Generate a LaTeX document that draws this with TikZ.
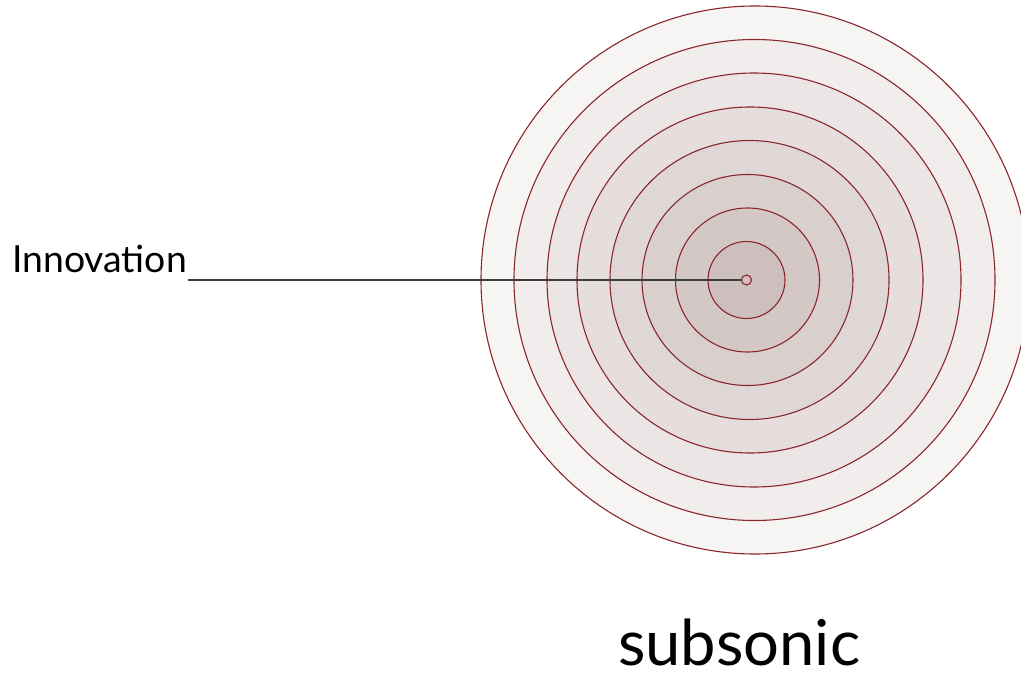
\documentclass[tikz,border=0pt]{standalone}
\usepackage{fontspec}
\setmainfont{Lato}
\definecolor{ringlight}{RGB}{247,245,244}
\definecolor{ringdark}{RGB}{204,191,189}
\definecolor{ringline}{RGB}{138,38,44}
\definecolor{leader}{RGB}{60,60,60}
\tikzset{
  ring/.style={circle, draw=ringline, line width=1.1bp, inner sep=0pt, minimum size=#1},
  label/.style={inner sep=0pt, anchor=base west, text=black},
}
\begin{document}
\begin{tikzpicture}[x=1bp,y=-1bp]
\useasboundingbox (0,0) rectangle (1021,673);
\clip (0,0) rectangle (1021,673);
\node[ring=548bp, fill=ringlight] (c1) at (755,280) {};
\node[ring=481bp, fill=ringdark!14!ringlight] (c2) at (754.5,280) {};
\node[ring=414bp, fill=ringdark!28!ringlight] (c3) at (754,280) {};
\node[ring=346bp, fill=ringdark!42!ringlight] (c4) at (750,280) {};
\node[ring=279bp, fill=ringdark!56!ringlight] (c5) at (749.5,280) {};
\node[ring=211bp, fill=ringdark!70!ringlight] (c6) at (747.5,280) {};
\node[ring=144bp, fill=ringdark!84!ringlight] (c7) at (747.5,280) {};
\node[ring=77bp, fill=ringdark] (c8) at (746.5,280) {};
\node[label, font=\fontsize{37.5}{44}\selectfont] (innov) at (12,272) {Innovation};
\draw[leader, line width=1.1bp] (innov.east |- c8.center) ++(1,0) -- (741,280) coordinate (c0w);
\node[ring=10bp, fill=ringdark] (c0) at (746.5,280) {};
\node[label, font=\fontsize{63.5}{72}\selectfont] (sub) at (618,665) {subsonic};
\end{tikzpicture}
\end{document}
